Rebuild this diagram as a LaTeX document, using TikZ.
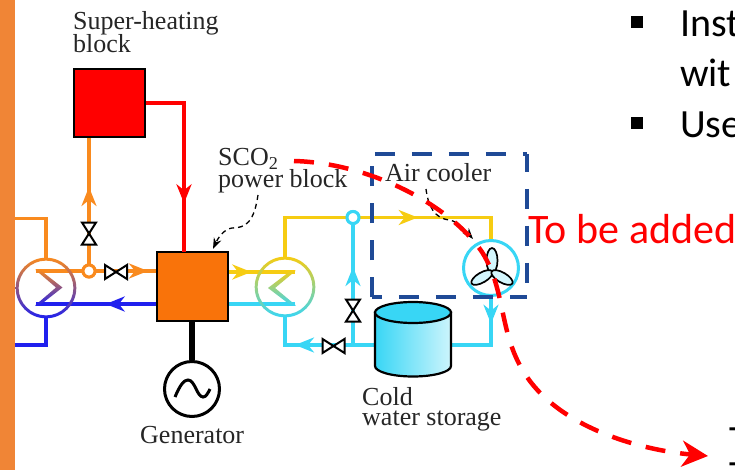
\documentclass[tikz,border=0pt]{standalone}
\usepackage{fontspec}
\setmainfont{Liberation Serif}
\newfontfamily\slidefont{Carlito}
\usetikzlibrary{arrows.meta,decorations.markings,calc}
\definecolor{cband}{HTML}{F08536}
\definecolor{cred}{HTML}{FF0000}
\definecolor{corange}{HTML}{F98A1E}
\definecolor{cbox}{HTML}{F9730A}
\definecolor{cblue}{HTML}{2020EE}
\definecolor{cyellow}{HTML}{F6CC12}
\definecolor{ccyan}{HTML}{38D6F5}
\definecolor{cnavy}{HTML}{1F4A96}
\tikzset{
  pipe/.style={line width=3.1pt,line join=miter},
  tipat/.style n args={2}{postaction={decorate},decoration={markings,mark=at position #1pt with {\arrow[#2]{Stealth[length=19pt,width=15pt,inset=6pt]}}}},
  blockbox/.style={draw=black,line width=2.6pt,minimum width=70pt,minimum height=68pt,inner sep=0pt},
  ring/.style={circle,minimum size=58pt,inner sep=0pt},
  junction/.style={circle,fill=white,line width=3pt,minimum size=12pt,inner sep=0pt},
  lbl/.style={font=\fontsize{26}{21}\selectfont,inner sep=0pt,align=left,anchor=west,text=black!85},
  slide/.style={font=\slidefont\fontsize{40}{40}\selectfont,inner sep=0pt,anchor=base west},
  valveh/.pic={\draw[fill=white,line width=2pt,line join=miter] (-11,-7)--(11,7)--(11,-7)--(-11,7)--cycle;},
  valvev/.pic={\draw[fill=white,line width=2pt,line join=miter] (-7,-11)--(7,11)--(-7,11)--(7,-11)--cycle;},
  blade/.style={draw=black,line width=1.7pt,fill=ccyan!22},
  thin dash/.style={draw=black,line width=1.3pt,dash pattern=on 5pt off 4pt},
  navydash/.style={draw=cnavy,line width=4.2pt,dash pattern=on 20pt off 17pt},
}
\begin{document}
\begin{tikzpicture}[x=1pt,y=-1pt]
\useasboundingbox (0,0) rectangle (735,470);
\clip (0,0) rectangle (735,470);
\fill[white] (0,0) rectangle (735,470);
\fill[cband] (0,0) rectangle (14.6,470);

% blocks
\node[blockbox,fill=cred,minimum width=71pt] (heat) at (109.5,103) {};
\node[blockbox,fill=cbox,minimum width=71pt,minimum height=69pt] (power) at (192.5,286.5) {};
\node[ring] (hx1) at (46,288) {};
\node[ring] (hx2) at (285,287) {};
\node[ring,minimum size=57pt] (fan) at (491,268) {};
\node[circle,draw=black,line width=3pt,fill=white,minimum size=55pt,inner sep=0pt] (gen) at (192,389) {};
\node[junction,draw=corange] (j1) at (89,271) {};
\node[junction,draw=ccyan] (j2) at (353,217.5) {};
\coordinate (bandtop) at (14.6,218.5);
\coordinate (bandbot) at (14.6,345);
\coordinate (tankL) at (375,345);
\coordinate (tankR) at (451,345);

% pipes
\draw[pipe,corange] (bandtop) -| (hx1.north);
\draw[pipe,cblue] (bandbot) -| (hx1.south);
\draw[pipe,corange] (36,271) -- (j1.west);
\draw[pipe,corange,tipat={59}{}] (j1.center) -- (power.west |- j1);
\draw[pipe,corange,tipat={84}{}] (j1.center) -- (j1 |- heat.south);
\draw[pipe,cred,tipat={138}{}] (heat.east) -- (184,103) -- (184,252);
\draw[pipe,cblue,tipat={50}{}] (power.west |- 0,304) -- (36,304);
\draw[line width=5.5pt] (power.south -| gen) -- (gen.north);
\draw[pipe,cyellow,tipat={22}{}] (power.east |- 0,272) -- (295,272);
\draw[pipe,ccyan] (power.east |- 0,304) -- (295,304);
\draw[pipe,cyellow,tipat={173}{}] (hx2.north) -- (285,217.5) -- (491,217.5) -- (fan.north);
\draw[pipe,ccyan,tipat={78}{}] (353,345) -- (j2.south);
\draw[pipe,ccyan,tipat={80}{}] (tankL) -- (285,345) -- (hx2.south);
\draw[pipe,ccyan,tipat={27}{}] (fan.south) -- (491,345) -- (tankR);
\node[junction,draw=corange] at (j1) {};
\node[junction,draw=ccyan] at (j2) {};

% heat exchangers
\shade[top color=corange,bottom color=cblue,even odd rule] (hx1) circle (30.3) (hx1) circle (27.4);
\shade[top color=corange,bottom color=cblue] (35,269.5) -- (39.5,269.5) -- (62.5,287.5) -- (39.5,305.5) -- (35,305.5) -- (56,287.5) -- cycle;
\shade[top color=cyellow,bottom color=ccyan,even odd rule] (hx2) circle (30.3) (hx2) circle (27.4);
\shade[top color=cyellow,bottom color=ccyan] (296,270.5) -- (291,270.5) -- (268,288) -- (291,305.5) -- (296,305.5) -- (275,288) -- cycle;

% valves
\pic (v1) at (89,233.5) {valvev};
\pic (v2) at (116,272) {valveh};
\pic (v3) at (353,310.5) {valvev};
\pic (v4) at (333.5,346) {valveh};

% generator sine
\draw[line width=3pt] (175,397) .. controls (180,385) and (184,380) .. (188,380) .. controls (195,380) and (197,397) .. (203,397) .. controls (206,397) and (208,393) .. (210,389);

% fan
\node[draw=ccyan,line width=3pt,circle,minimum size=55pt,inner sep=0pt,fill=white] at (fan) {};
\path[blade] (492,260.5) ellipse (5.5 and 12.5);
\path[blade,rotate around={30:(482,277.5)}] (482,277.5) ellipse (12 and 5);
\path[blade,rotate around={-30:(502,277.5)}] (502,277.5) ellipse (12 and 5);

% tank
\shade[left color=ccyan,right color=ccyan!25,draw=black,line width=2.2pt] (375,312.5) -- (375,366) arc[start angle=180,end angle=0,x radius=38,y radius=10.5] -- (451,312.5) -- cycle;
\fill[ccyan,draw=black,line width=2.2pt] (413,312.5) ellipse (38 and 10.5);

% labels
\node[lbl] (t1) at (73,32) {Super-heating\\[-1pt]block};
\node[lbl] (t2) at (218,171) {SCO\textsubscript{2}\\[-1pt]power block};
\node[lbl] (t3) at (385,173) {Air cooler};
\node[lbl] (t4) at (362,409) {Cold\\[-1pt]water storage};
\node[lbl] (t5) at (140,435) {Generator};

% thin dashed leaders
\draw[thin dash,-{Stealth[length=11pt,width=8pt]}] (258,195) .. controls (254,222) and (246,228) .. (232,228) .. controls (224,229) and (218,238) .. (213,249);
\draw[thin dash,-{Stealth[length=11pt,width=8pt]}] (426,189) .. controls (428,205) and (434,219) .. (450,220) .. controls (458,222) and (466,231) .. (473,239);

% navy dashed frame
\node[minimum width=155pt,minimum height=143pt,inner sep=0pt] (frame) at (449.5,225.5) {};
\draw[navydash,dash phase=34pt] (frame.north west) -- (frame.north east);
\draw[navydash,dash phase=2pt] (frame.north east) -- (frame.south east);
\draw[navydash,dash phase=10pt] (frame.south west) -- (frame.south east);
\draw[navydash] (frame.south west) -- (frame.north west);

% slide text
\fill[black] (631,16) rectangle (643,28);
\fill[black] (631,117) rectangle (643,129);
\node[slide] (s1) at (680,37) {Inst};
\node[slide] (s2) at (680,87) {wit};
\node[slide] (s3) at (680,138) {Use};
\node[slide,text=red,font=\slidefont\fontsize{42}{42}\selectfont] (s4) at (528,243) {To be added};
\node[slide] (s5) at (729,453) {T};
\node[slide] (s6) at (729,488) {T};

% red dashed curve
\coordinate (cs) at (294,161);
\coordinate (ce) at (708,456);
\draw[cred,line width=4.5pt,dash pattern=on 20pt off 15pt,-{Stealth[length=26pt,width=26pt,inset=8pt]}]
  (cs) .. controls (370,163) and (450,205) .. (482,252) .. controls (507,292) and (498,335) .. (527,377) .. controls (562,428) and (640,450) .. (ce);
\end{tikzpicture}
\end{document}
